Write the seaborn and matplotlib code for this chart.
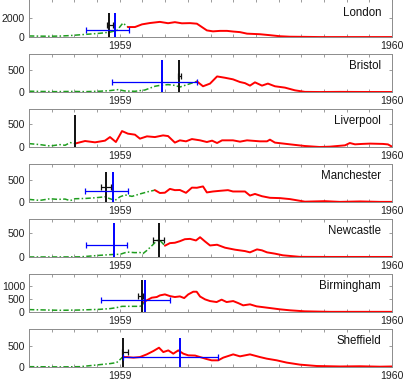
import matplotlib
matplotlib.use("Agg")
import matplotlib.pyplot as plt
import seaborn as sns
import pandas as pd

# x = months since 1 Sep 1958 (4 -> Jan 1959, 16 -> Jan 1960)
cities = ["London", "Bristol", "Liverpool", "Manchester", "Newcastle", "Birmingham", "Sheffield"]

london_green_x = [0, 0.48, 0.93, 1.37, 1.81, 2.25, 2.69, 3.13, 3.57, 3.88, 4.14, 4.36]
london_green_y = [120, 100, 90, 110, 160, 240, 320, 400, 520, 700, 1470, 1050]
london_red_x = [4.36, 4.67, 4.98, 5.33, 5.77, 6.13, 6.43, 6.74, 7.10, 7.40, 7.84, 8.11, 8.42,
                8.73, 9.0, 9.30, 9.61, 10.18, 10.62, 11.06, 11.50, 11.94, 12.82, 13.71, 14.59, 16.0]
london_red_y = [1050, 1050, 1330, 1470, 1590, 1450, 1560, 1440, 1460, 1400, 700, 600, 650,
                650, 580, 520, 360, 300, 200, 90, 40, 30, 5, 5, 5, 5]

bristol_green_x = [0, 0.48, 1.15, 1.81, 2.47, 3.13, 3.57, 3.92, 4.23, 4.67, 5.11, 5.55, 5.77,
                   6.13, 6.43, 6.65, 7.01, 7.32, 7.40]
bristol_green_y = [20, 15, 10, 15, 10, 20, 33, 55, 25, 18, 47, 130, 150, 167, 150, 113, 173, 225, 240]
bristol_red_x = [7.40, 7.67, 7.98, 8.29, 8.64, 8.99, 9.30, 9.52, 9.74, 9.96, 10.27, 10.53, 10.84,
                 11.28, 11.72, 12.16, 12.82, 13.71, 14.59, 16.0]
bristol_red_y = [240, 130, 190, 350, 320, 285, 225, 200, 145, 218, 145, 190, 130, 100, 40, 5, 2, 5, 3, 2]

liverpool_green_x = [0, 0.48, 0.93, 1.37, 1.59, 1.81, 2.03]
liverpool_green_y = [77, 55, 24, 55, 40, 99, 78]
liverpool_red_x = [2.03, 2.47, 2.91, 3.35, 3.57, 3.83, 4.10, 4.36, 4.67, 4.89, 5.20, 5.55, 5.91,
                   6.13, 6.43, 6.65, 6.92, 7.18, 7.54, 7.84, 8.07, 8.29, 8.51, 8.99, 9.30, 9.61,
                   10.18, 10.49, 10.62, 10.84, 11.50, 12.16, 12.82, 13.27, 13.93, 14.14, 14.37,
                   14.68, 15.03, 15.60, 15.82, 16.0]
liverpool_red_y = [78, 134, 105, 142, 221, 112, 353, 296, 274, 186, 237, 221, 258,
                   243, 99, 149, 127, 177, 149, 112, 142, 90, 149, 149, 120, 149,
                   127, 127, 164, 99, 61, 24, 2, 10, 39, 90, 61,
                   70, 77, 70, 60, 10]

manchester_green_x = [0, 0.48, 0.93, 1.28, 1.59, 1.81, 2.03, 2.47, 2.91, 3.35, 3.57, 3.79, 4.01,
                      4.23, 4.54, 4.89, 5.24, 5.55]
manchester_green_y = [60, 38, 75, 60, 68, 32, 75, 81, 96, 118, 75, 38, 118, 160, 128, 182, 231, 267]
manchester_red_x = [5.55, 5.77, 5.99, 6.21, 6.43, 6.65, 6.92, 7.18, 7.40, 7.67, 7.84, 8.11, 8.42,
                    8.77, 8.99, 9.52, 9.74, 9.96, 10.27, 10.62, 11.06, 11.50, 12.16, 13.04, 13.71,
                    14.59, 15.47, 16.0]
manchester_red_y = [267, 203, 210, 295, 267, 270, 207, 323, 320, 350, 216, 237, 252,
                    267, 237, 237, 146, 182, 131, 96, 89, 67, 10, 21, 5, 15, 5, 5]

newcastle_green_x = [0, 1.37, 2.25, 3.13, 3.79, 4.01, 4.32, 4.67, 4.89, 5.02, 5.20, 5.46, 5.64, 5.77, 5.99]
newcastle_green_y = [3, 3, 5, 37, 57, 57, 104, 92, 95, 71, 139, 255, 343, 343, 235]
newcastle_red_x = [5.99, 6.21, 6.43, 6.65, 6.87, 7.10, 7.36, 7.54, 7.76, 7.98, 8.29, 8.64, 9.08,
                   9.52, 9.74, 10.05, 10.27, 10.49, 10.84, 11.19, 11.94, 13.27, 14.59, 16.0]
newcastle_red_y = [235, 288, 296, 328, 369, 376, 343, 410, 322, 240, 255, 194, 153,
                   124, 98, 159, 139, 98, 71, 37, 5, 3, 3, 3]

birmingham_green_x = [0, 1.37, 2.25, 3.13, 3.57, 3.86, 4.10, 4.45, 4.89, 5.01, 5.07]
birmingham_green_y = [96, 69, 80, 107, 134, 172, 222, 222, 222, 299, 387]
birmingham_red_x = [5.07, 5.19, 5.41, 5.63, 5.77, 5.99, 6.21, 6.43, 6.65, 6.84, 7.02, 7.24, 7.39,
                    7.54, 7.76, 7.98, 8.27, 8.49, 8.71, 9.00, 9.22, 9.44, 9.74, 10.03, 10.48,
                    11.06, 11.50, 12.16, 13.27, 14.59, 16.0]
birmingham_red_y = [387, 452, 555, 580, 643, 682, 617, 580, 605, 540, 682, 785, 785,
                    600, 490, 425, 387, 479, 387, 425, 348, 260, 299, 222, 172,
                    107, 69, 30, 10, 10, 10]

sheffield_green_x = [0, 1.37, 2.25, 3.13, 3.57, 3.86, 4.01, 4.13]
sheffield_green_y = [10, 5, 10, 59, 83, 107, 178, 239]
sheffield_red_x = [4.13, 4.31, 4.60, 4.89, 5.19, 5.48, 5.73, 5.92, 6.14, 6.36, 6.58, 6.80, 7.02,
                   7.32, 7.54, 7.83, 8.05, 8.34, 8.56, 9.00, 9.30, 9.74, 10.18, 10.48, 10.92,
                   11.36, 11.94, 12.68, 13.71, 14.59, 15.47, 16.0]
sheffield_red_y = [239, 239, 225, 239, 303, 382, 462, 358, 398, 320, 398, 320, 280,
                   275, 239, 192, 161, 161, 225, 303, 256, 303, 239, 201, 161,
                   107, 59, 26, 15, 20, 10, 15]

green_x = [london_green_x, bristol_green_x, liverpool_green_x, manchester_green_x,
           newcastle_green_x, birmingham_green_x, sheffield_green_x]
green_y = [london_green_y, bristol_green_y, liverpool_green_y, manchester_green_y,
           newcastle_green_y, birmingham_green_y, sheffield_green_y]
red_x = [london_red_x, bristol_red_x, liverpool_red_x, manchester_red_x,
         newcastle_red_x, birmingham_red_x, sheffield_red_x]
red_y = [london_red_y, bristol_red_y, liverpool_red_y, manchester_red_y,
         newcastle_red_y, birmingham_red_y, sheffield_red_y]

y_max = [4000, 855, 844, 855, 790, 1475, 912]
y_ticks = [[0, 2000], [0, 500], [0, 500], [0, 500], [0, 500], [0, 500, 1000], [0, 500]]
line_top = [2480, 722, 712, 675, 696, 1218, 700]

black_x = [3.54, 6.62, 2.04, 3.39, 5.74, 4.99, 4.16]
black_lo = [3.44, 6.57, None, 3.16, 5.46, 4.80, 4.09]
black_hi = [3.70, 6.70, None, 3.61, 5.95, 5.04, 4.38]
black_y = [1230, 367, None, 338, 357, 617, 358]

blue_x = [3.79, 5.87, None, 3.72, 3.75, 5.11, 6.65]
blue_lo = [2.53, 3.66, None, 2.48, 2.50, 3.16, 4.13]
blue_hi = [4.41, 7.39, None, 4.36, 4.33, 6.21, 8.34]
blue_y = [780, 225, None, 237, 255, 452, 239]

month_ticks = list(range(0, 17))
month_labels = ["1959" if m == 4 else "1960" if m == 16 else "" for m in month_ticks]

sns.set_theme(style="ticks")
plt.rcParams["font.family"] = ["Liberation Sans", "DejaVu Sans"]

GREEN = "#1f9e1f"
RED = "#ff0000"
BLUE = "#0000ff"
BLACK = "#111111"
GRAY = "#8c8c8c"

W, H = 407, 382
fig = plt.figure(figsize=(W / 100, H / 100), dpi=100)

for i, city in enumerate(cities):
    top_px = -1.2 + 55 * i
    h_px = 38.3
    ax = fig.add_axes([29 / W, 1 - (top_px + h_px) / H, 363 / W, h_px / H])

    g = pd.DataFrame({"x": green_x[i], "y": green_y[i]})
    r = pd.DataFrame({"x": red_x[i], "y": red_y[i]})
    sns.lineplot(data=g, x="x", y="y", ax=ax, color=GREEN, linewidth=1.1,
                 linestyle=(0, (3.5, 1.5, 1, 1.5)), sort=False, estimator=None, clip_on=False)
    sns.lineplot(data=r, x="x", y="y", ax=ax, color=RED, linewidth=1.4,
                 sort=False, estimator=None, clip_on=False)

    ax.vlines(black_x[i], 0, line_top[i], color=BLACK, linewidth=1.4, zorder=4)
    if black_lo[i] is not None:
        ax.errorbar(black_x[i], black_y[i],
                    xerr=[[black_x[i] - black_lo[i]], [black_hi[i] - black_x[i]]],
                    fmt="none", ecolor=BLACK, elinewidth=0.9, capsize=2.2, capthick=0.9, zorder=5)
    if blue_x[i] is not None:
        ax.vlines(blue_x[i], 0, line_top[i], color=BLUE, linewidth=1.4, zorder=4)
        ax.errorbar(blue_x[i], blue_y[i],
                    xerr=[[blue_x[i] - blue_lo[i]], [blue_hi[i] - blue_x[i]]],
                    fmt="none", ecolor=BLUE, elinewidth=0.9, capsize=2.2, capthick=0.9, zorder=5)

    ax.set_xlim(0, 16)
    ax.set_ylim(0, y_max[i])
    ax.set_xticks(month_ticks)
    ax.set_xticklabels(month_labels)
    ax.set_yticks(y_ticks[i])
    ax.set_xlabel("")
    ax.set_ylabel("")
    ax.tick_params(direction="in", length=2.4, width=0.6, color=GRAY, labelsize=7.6,
                   labelcolor="#222222", top=True, right=True, pad=3)
    for s in ax.spines.values():
        s.set_color(GRAY)
        s.set_linewidth(0.7)
        s.set_visible(True)
    ax.text(0.97, 0.64 if i == 0 else 0.67, city, transform=ax.transAxes,
            ha="right", va="center", fontsize=8.3, color="#111111")

fig.savefig("out.png", dpi=100)
